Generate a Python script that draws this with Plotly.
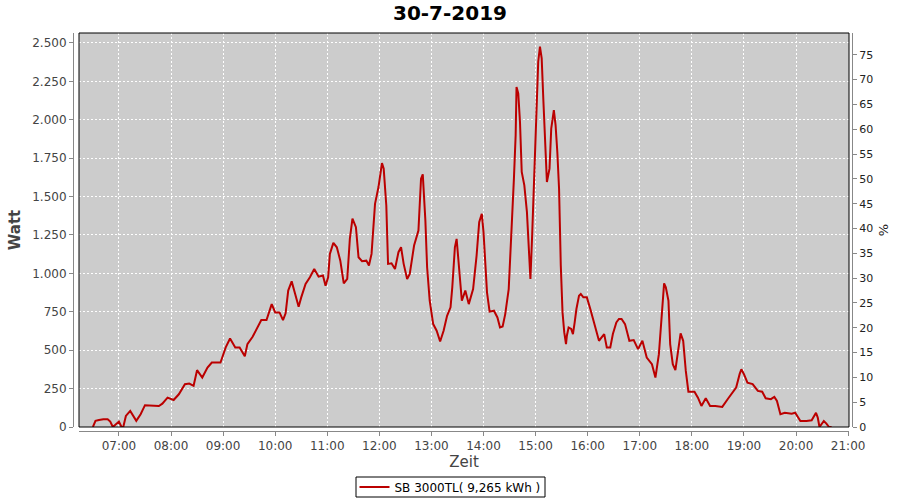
import plotly.graph_objects as go

DATE = "2019-07-30"
title_text = "30-7-2019"
x_title = "Zeit"
y_title = "Watt"
y2_title = "%"
series_name = "SB 3000TL( 9,265 kWh )"

times = [
    "06:30", "06:33", "06:37", "06:42", "06:47", "06:50", "06:53", "06:57", "07:00", "07:03",
    "07:05", "07:08", "07:13", "07:20", "07:25", "07:30", "07:46", "07:50", "07:56", "08:03",
    "08:09", "08:16", "08:21", "08:26", "08:30", "08:36", "08:42", "08:47", "08:57", "09:03",
    "09:08", "09:14", "09:19", "09:25", "09:28", "09:34", "09:39", "09:44", "09:50", "09:56",
    "10:00", "10:05", "10:09", "10:12", "10:15", "10:19", "10:23", "10:27", "10:30", "10:35",
    "10:40", "10:45", "10:50", "10:55", "10:58", "11:01", "11:03", "11:07", "11:11", "11:15",
    "11:19", "11:23", "11:26", "11:29", "11:33", "11:36", "11:40", "11:45", "11:48", "11:51",
    "11:55", "11:59", "12:03", "12:05", "12:08", "12:10", "12:14", "12:18", "12:22", "12:25",
    "12:28", "12:32", "12:35", "12:40", "12:45", "12:48", "12:50", "12:53", "12:55", "12:58",
    "13:02", "13:06", "13:10", "13:14", "13:18", "13:22", "13:24", "13:27", "13:29", "13:32",
    "13:35", "13:39", "13:43", "13:48", "13:52", "13:55", "13:58", "14:00", "14:02", "14:04",
    "14:07", "14:12", "14:16", "14:19", "14:22", "14:25", "14:29", "14:31", "14:34", "14:35",
    "14:37", "14:38", "14:40", "14:42", "14:44", "14:47", "14:50", "14:52", "14:54", "14:56",
    "14:59", "15:01", "15:03", "15:05", "15:07", "15:09", "15:11", "15:13", "15:16", "15:18",
    "15:21", "15:23", "15:25", "15:27", "15:29", "15:31", "15:33", "15:35", "15:36", "15:38",
    "15:41", "15:43", "15:45", "15:47", "15:50", "15:52", "15:55", "15:59", "16:03", "16:07",
    "16:10", "16:13", "16:16", "16:19", "16:22", "16:26", "16:29", "16:33", "16:36", "16:39",
    "16:43", "16:48", "16:53", "16:58", "17:03", "17:08", "17:14", "17:18", "17:22", "17:25",
    "17:28", "17:30", "17:33", "17:35", "17:38", "17:41", "17:44", "17:47", "17:50", "17:53",
    "17:56", "18:03", "18:07", "18:11", "18:16", "18:21", "18:27", "18:35", "18:42", "18:51",
    "18:55", "18:57", "19:00", "19:04", "19:10", "19:16", "19:21", "19:25", "19:31", "19:35",
    "19:38", "19:42", "19:47", "19:55", "19:59", "20:05", "20:12", "20:18", "20:23", "20:25",
    "20:27", "20:32", "20:35", "20:38", "20:41",
]

watts = [
    0, 40, 45, 50, 50, 35, 0, 20, 35, 0,
    0, 72, 105, 40, 83, 142, 137, 152, 191, 176,
    213, 279, 283, 268, 370, 322, 387, 420, 420, 518,
    576, 518, 518, 461, 540, 587, 637, 696, 696, 800,
    746, 746, 696, 740, 888, 948, 866, 783, 844, 931,
    975, 1029, 979, 986, 920, 975, 1127, 1199, 1170, 1083,
    935, 964, 1225, 1356, 1301, 1105, 1079, 1083, 1051, 1127,
    1453, 1562, 1718, 1682, 1442, 1062, 1066, 1029, 1138, 1170,
    1062, 964, 997, 1181, 1279, 1617, 1645, 1345, 1040, 822,
    670, 627, 557, 627, 724, 779, 909, 1170, 1225, 997,
    822, 888, 800, 898, 1116, 1333, 1388, 1268, 1072, 877,
    751, 757, 713, 648, 654, 735, 898, 1138, 1399, 1617,
    1899, 2214, 2171, 1986, 1660, 1573, 1399, 1138, 964, 1247,
    1790, 2117, 2378, 2476, 2400, 2117, 1790, 1595, 1682, 1943,
    2063, 1965, 1790, 1551, 1051, 746, 616, 540, 594, 648,
    638, 605, 681, 768, 855, 866, 844, 844, 768, 692,
    627, 561, 583, 605, 518, 518, 605, 681, 703, 703,
    670, 561, 566, 507, 561, 452, 409, 322, 474, 736,
    935, 909, 822, 540, 409, 370, 496, 609, 561, 365,
    230, 230, 191, 137, 187, 137, 137, 131, 187, 257,
    344, 376, 344, 289, 279, 235, 230, 187, 181, 196,
    170, 83, 93, 87, 93, 39, 39, 44, 93, 61,
    0, 39, 22, 0, 0,
]

x_range = ["06:14", "21:01"]
x_first_tick = "07:00"
y_range = [0, 2565]
y_dtick = 250
y2_range = [0, 79.4]
y2_dtick = 5

xs = [f"{DATE} {t}" for t in times]

W, H = 900, 500
PL, PR, PT, PB = 79, 849, 33, 427
dom_x = [PL / W, PR / W]
dom_y = [(H - PB) / H, (H - PT) / H]
LEG_BOX = (356, 545, 477, 497)  # left, right, top, bottom in px

FONT = "DejaVu Sans"
GRAY = "#444444"
AXC = "#888888"

fig = go.Figure()
fig.add_trace(go.Scatter(
    x=xs, y=watts, mode="lines", name=series_name,
    line=dict(color="#bb0000", width=2),
))
fig.add_trace(go.Scatter(x=[], y=[], yaxis="y2", showlegend=False, hoverinfo="skip"))

fig.update_layout(
    width=W, height=H, autosize=False,
    margin=dict(l=0, r=0, t=0, b=0, autoexpand=False),
    paper_bgcolor="white", plot_bgcolor="#cccccc",
    separators=",.",
    showlegend=True,
    font=dict(family=FONT, size=12, color=GRAY),
    title=dict(text=f"<b>{title_text}</b>", x=0.5, xanchor="center",
               y=1 - 13 / H, yanchor="middle",
               font=dict(family=FONT, size=20, color="black")),
    xaxis=dict(
        type="date", domain=dom_x, anchor="free", position=(H - 431) / H,
        range=[f"{DATE} {x_range[0]}", f"{DATE} {x_range[1]}"],
        tick0=f"{DATE} {x_first_tick}", dtick=3600000, tickformat="%H:%M",
        showline=True, linecolor=AXC, linewidth=1,
        ticks="outside", ticklen=4, tickcolor=AXC,
        tickfont=dict(family=FONT, size=12, color=GRAY),
        showgrid=True, gridcolor="white", gridwidth=1, griddash="2px,2px",
        zeroline=False,
        title=dict(text=x_title, standoff=2, font=dict(family=FONT, size=15, color=GRAY)),
    ),
    yaxis=dict(
        domain=dom_y, anchor="free", position=73 / W,
        range=y_range, tick0=0, dtick=y_dtick, tickformat=",.0f",
        showline=True, linecolor=AXC, linewidth=1,
        ticks="outside", ticklen=4, tickcolor=AXC,
        tickfont=dict(family=FONT, size=12, color=GRAY),
        showgrid=True, gridcolor="white", gridwidth=1, griddash="2px,2px",
        zeroline=False,
        title=dict(text=f"<b>{y_title}</b>", standoff=6, font=dict(family=FONT, size=15, color=GRAY)),
    ),
    yaxis2=dict(
        overlaying="y", side="right", anchor="free", position=852 / W,
        range=y2_range, tick0=0, dtick=y2_dtick,
        showline=True, linecolor=AXC, linewidth=1,
        ticks="outside", ticklen=4, tickcolor=AXC,
        tickfont=dict(family=FONT, size=11, color="#222222"),
        showgrid=False, zeroline=False,
        title=dict(text=y2_title, standoff=6, font=dict(family=FONT, size=13, color="#222222")),
    ),
    legend=dict(
        orientation="h", x=0.5, xanchor="center",
        y=(H - (LEG_BOX[2] + LEG_BOX[3]) / 2) / H, yanchor="middle",
        bgcolor="rgba(0,0,0,0)", borderwidth=0,
        font=dict(family=FONT, size=12, color="black"), itemwidth=30,
    ),
    shapes=[
        dict(type="rect", xref="x domain", yref="y domain", x0=0, x1=1, y0=0, y1=1,
             line=dict(color="black", width=1), layer="above"),
        dict(type="rect", xref="paper", yref="paper",
             x0=LEG_BOX[0] / W, x1=LEG_BOX[1] / W,
             y0=(H - LEG_BOX[3]) / H, y1=(H - LEG_BOX[2]) / H,
             line=dict(color="black", width=1), fillcolor="white", layer="below"),
    ],
    hovermode=False,
)

fig.write_html(
    "out.html",
    config={"displayModeBar": False},
    post_script="document.body.style.margin='0';document.body.style.overflow='hidden';",
)
